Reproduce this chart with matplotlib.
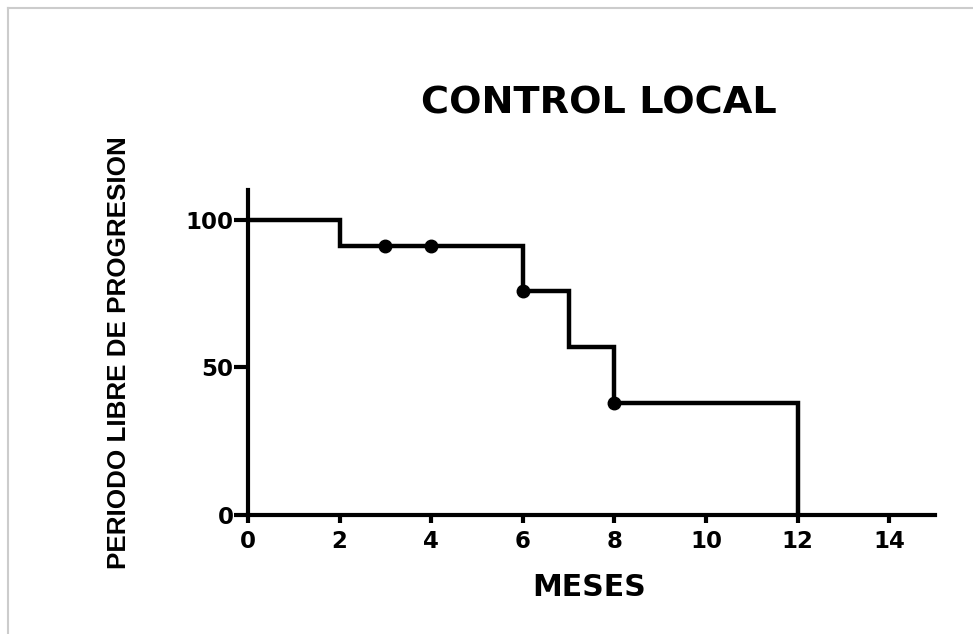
import matplotlib
matplotlib.use("Agg")
from matplotlib import pyplot as plt
from matplotlib.lines import Line2D

# Kaplan-Meier steps
times = [0, 2, 6, 7, 8, 12]
survival = [100, 90.9, 75.8, 56.8, 37.9, 0]
# censored marks
cens_t = [3, 4, 6, 8]
cens_s = [90.9, 90.9, 75.8, 37.9]

xticks = [0, 2, 4, 6, 8, 10, 12, 14]
yticks = [0, 50, 100]

title = "CONTROL LOCAL"
xlabel = "MESES"
ylabel = "PERIODO LIBRE DE PROGRESION"

plt.rcParams['font.family'] = ['DejaVu Sans']
plt.rcParams['font.weight'] = 'bold'

fig = plt.figure(figsize=(9.73, 6.34), dpi=100)
ax = fig.add_axes([0.2549, 0.1877, 0.706, 0.5126])

ax.step(times, survival, where='post', color='black', lw=3.2, solid_joinstyle='miter')
ax.plot(cens_t, cens_s, 'o', color='black', ms=9)

ax.set_xlim(0, 15)
ax.set_ylim(0, 110)
ax.set_xticks(xticks)
ax.set_yticks(yticks)
ax.spines['top'].set_visible(False)
ax.spines['right'].set_visible(False)
ax.spines['left'].set_linewidth(3)
ax.spines['bottom'].set_linewidth(3)
ax.tick_params(axis='both', width=3, labelsize=16.5)
ax.tick_params(axis='y', length=10, pad=0.5)
ax.tick_params(axis='x', length=6, pad=5)
for lab in ax.get_xticklabels() + ax.get_yticklabels():
    lab.set_fontweight('bold')

fig.text(0.6156, 0.8368, title, ha='center', va='center', fontsize=27.5, fontweight='bold')
fig.text(0.6053, 0.0733, xlabel, ha='center', va='center', fontsize=21.5, fontweight='bold')
fig.text(0.1218, 0.4432, ylabel, ha='center', va='center', rotation=90,
         fontsize=18.7, fontweight='bold', family=['Liberation Sans', 'DejaVu Sans'])

# light grey frame of the original picture (top and left edges only)
for xs, ys in [([0.0087, 0.0087], [-0.1, 0.9866]),
               ([0.0087, 1.1], [0.9866, 0.9866])]:
    fig.add_artist(Line2D(xs, ys, color='#cccccc', lw=1.5))

fig.savefig("out.png", dpi=100)
